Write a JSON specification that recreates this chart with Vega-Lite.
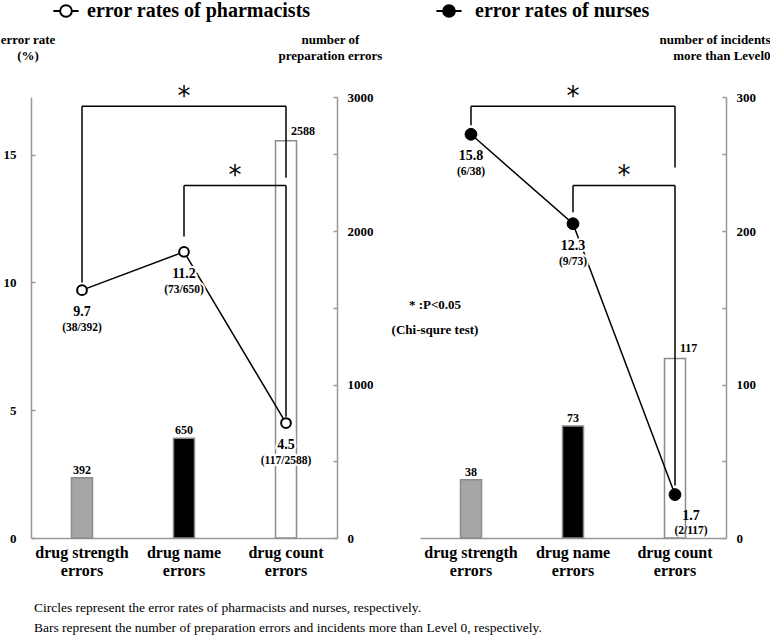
{
  "$schema": "https://vega.github.io/schema/vega-lite/v6.json",
  "autosize": {"type": "pad"},
  "padding": {"left": 0, "top": 1, "right": 0, "bottom": 0},
  "background": "white",
  "spacing": 83,
  "bounds": "flush",
  "title": {
    "text": ["Circles represent the error rates of pharmacists and nurses, respectively.", "Bars represent the number of preparation errors and incidents more than Level 0, respectively."],
    "orient": "bottom", "anchor": "start", "frame": "group",
    "font": "Liberation Serif", "fontSize": 13.5, "fontWeight": "normal", "color": "black",
    "lineHeight": 20, "offset": 23, "dx": 3
  },
  "config": {
    "view": {"stroke": null},
    "font": "Liberation Serif",
    "axis": {
      "grid": false, "domainColor": "#999999", "domainWidth": 1.5, "tickColor": "#999999", "tickWidth": 1.5,
      "labelFont": "Liberation Serif", "labelFontWeight": "bold", "labelColor": "black",
      "titleFont": "Liberation Serif", "titleFontWeight": "bold", "titleColor": "black",
      "labelFlush": false, "labelOverlap": false, "labelBound": false
    },
    "text": {"font": "Liberation Serif", "fontWeight": "bold", "color": "black"}
  },
  "resolve": {
    "scale": {"fill": "independent", "color": "independent", "x": "independent", "y": "independent"},
    "legend": {"fill": "independent"}
  },
  "hconcat": [
    {
      "width": 306, "height": 441,
      "data": {"values": [
        {"cat": "drug strength errors", "count": 392, "rate": 9.7, "frac": "(38/392)"},
        {"cat": "drug name errors", "count": 650, "rate": 11.2, "frac": "(73/650)"},
        {"cat": "drug count errors", "count": 2588, "rate": 4.5, "frac": "(117/2588)"}
      ]},
      "encoding": {
        "x": {"field": "cat", "type": "nominal", "sort": null,
          "scale": {"domain": ["drug strength errors", "drug name errors", "drug count errors"], "paddingInner": 0, "paddingOuter": 0},
          "axis": {"title": null, "labelAngle": 0, "ticks": false, "labelFontSize": 16, "labelLineHeight": 18, "labelPadding": 6, "labelBaseline": "top",
            "labelExpr": "[slice(datum.label, 0, lastindexof(datum.label, ' ')), slice(datum.label, lastindexof(datum.label, ' ') + 1)]"}}
      },
      "layer": [
        {
          "encoding": {
            "y": {"field": "count", "type": "quantitative",
              "scale": {"domain": [0, 2873], "nice": false, "zero": true},
              "axis": {"orient": "right", "values": [0, 500, 1000, 1500, 2000, 2500, 2873], "format": "d",
                "labelExpr": "datum.value > 2800 ? '3000' : (datum.value % 1000 == 0 ? datum.label : '')",
                "tickSize": -4, "labelPadding": 14, "labelFontSize": 13,
                "title": ["number of", "preparation errors"], "titleAngle": 0, "titleAlign": "center", "titleBaseline": "alphabetic",
                "titleX": -7, "titleY": -54, "titleFontSize": 13, "titleLineHeight": 16}}
          },
          "layer": [
            {"mark": {"type": "bar", "width": 21, "stroke": "#8c8c8c", "strokeWidth": 1.5},
             "encoding": {"color": {"field": "cat", "type": "nominal",
               "scale": {"domain": ["drug strength errors", "drug name errors", "drug count errors"], "range": ["#a6a6a6", "#000000", "#ffffff"]}, "legend": null}}},
            {"transform": [{"filter": "datum.cat != 'drug count errors'"}],
             "mark": {"type": "text", "fontSize": 12, "baseline": "middle", "dy": -8},
             "encoding": {"text": {"field": "count", "type": "quantitative", "format": "d"}}},
            {"transform": [{"filter": "datum.cat == 'drug count errors'"}],
             "mark": {"type": "text", "fontSize": 12, "baseline": "middle", "align": "left", "dx": 5, "dy": -10},
             "encoding": {"text": {"field": "count", "type": "quantitative", "format": "d"}}}
          ]
        },
        {
          "encoding": {
            "y": {"field": "rate", "type": "quantitative",
              "scale": {"domain": [0, 17.26], "nice": false, "zero": true},
              "axis": {"orient": "left", "values": [0, 5, 10, 15], "tickSize": -4, "labelPadding": 19, "labelFontSize": 13,
                "title": ["error rate", "(%)"], "titleAngle": 0, "titleAlign": "center", "titleBaseline": "alphabetic",
                "titleX": -3.5, "titleY": -54, "titleFontSize": 13, "titleLineHeight": 16}}
          },
          "layer": [
            {"data": {"values": [
               {"cat": "drug strength errors", "cat_to": "drug strength errors", "rate": 16.9, "rate_lo": 10.0},
               {"cat": "drug strength errors", "cat_to": "drug count errors", "rate": 16.9, "rate_lo": 16.9},
               {"cat": "drug count errors", "cat_to": "drug count errors", "rate": 16.9, "rate_lo": 14.1},
               {"cat": "drug name errors", "cat_to": "drug name errors", "rate": 13.8, "rate_lo": 11.8},
               {"cat": "drug name errors", "cat_to": "drug count errors", "rate": 13.8, "rate_lo": 13.8},
               {"cat": "drug count errors", "cat_to": "drug count errors", "rate": 13.8, "rate_lo": 4.75}
             ]},
             "mark": {"type": "rule", "stroke": "black", "strokeWidth": 1.5},
             "encoding": {"x2": {"field": "cat_to"}, "y2": {"field": "rate_lo"}}},
            {"mark": {"type": "line", "stroke": "black", "strokeWidth": 1.5}},
            {"mark": {"type": "text", "fontSize": 14, "baseline": "middle", "dy": 22, "fill": "white", "stroke": "white", "strokeWidth": 4},
             "encoding": {"text": {"field": "rate", "type": "quantitative", "format": ".1f"}}},
            {"mark": {"type": "text", "fontSize": 11.5, "baseline": "middle", "dy": 38, "fill": "white", "stroke": "white", "strokeWidth": 4},
             "encoding": {"text": {"field": "frac", "type": "nominal"}}},
            {"mark": {"type": "text", "fontSize": 14, "baseline": "middle", "dy": 22},
             "encoding": {"text": {"field": "rate", "type": "quantitative", "format": ".1f"}}},
            {"mark": {"type": "text", "fontSize": 11.5, "baseline": "middle", "dy": 38},
             "encoding": {"text": {"field": "frac", "type": "nominal"}}},
            {"mark": {"type": "circle", "size": 95, "stroke": "black", "strokeWidth": 2, "opacity": 1},
             "encoding": {"fill": {"datum": "error rates of pharmacists", "scale": {"range": ["white"]},
               "legend": {"title": null, "orient": "none", "legendX": 25, "legendY": -96,
                 "symbolType": "M-1.4,0H-0.65M0.65,0H1.4M0.65,0A0.65,0.65,0,1,1,-0.65,0A0.65,0.65,0,1,1,0.65,0Z",
                 "symbolSize": 324, "symbolStrokeColor": "black", "symbolStrokeWidth": 2, "symbolFillColor": "white",
                 "labelFont": "Liberation Serif", "labelFontSize": 20, "labelFontWeight": "bold", "labelColor": "black",
                 "labelLimit": 0, "labelOffset": 11, "padding": 0}}}},
            {"data": {"values": [{"cat": "drug name errors", "rate": 17.5}]},
             "mark": {"type": "text", "text": "*", "font": "DejaVu Sans", "fontSize": 26, "fontWeight": "normal", "baseline": "middle", "dy": 6}},
            {"data": {"values": [{"cat": "drug name errors", "rate": 14.4}]},
             "mark": {"type": "text", "text": "*", "font": "DejaVu Sans", "fontSize": 26, "fontWeight": "normal", "baseline": "middle", "dx": 51, "dy": 6}}
          ]
        }
      ],
      "resolve": {"scale": {"y": "independent"}}
    },
    {
      "width": 306, "height": 441,
      "data": {"values": [
        {"cat": "drug strength errors", "count": 38, "rate": 15.8, "frac": "(6/38)"},
        {"cat": "drug name errors", "count": 73, "rate": 12.3, "frac": "(9/73)"},
        {"cat": "drug count errors", "count": 117, "rate": 1.7, "frac": "(2/117)"}
      ]},
      "encoding": {
        "x": {"field": "cat", "type": "nominal", "sort": null,
          "scale": {"domain": ["drug strength errors", "drug name errors", "drug count errors"], "paddingInner": 0, "paddingOuter": 0},
          "axis": {"title": null, "labelAngle": 0, "ticks": false, "labelFontSize": 16, "labelLineHeight": 18, "labelPadding": 6, "labelBaseline": "top",
            "labelExpr": "[slice(datum.label, 0, lastindexof(datum.label, ' ')), slice(datum.label, lastindexof(datum.label, ' ') + 1)]"}}
      },
      "layer": [
        {
          "encoding": {
            "y": {"field": "count", "type": "quantitative",
              "scale": {"domain": [0, 287.3], "nice": false, "zero": true},
              "axis": {"orient": "right", "values": [0, 50, 100, 150, 200, 250, 287.3], "format": "d",
                "labelExpr": "datum.value > 280 ? '300' : (datum.value % 100 == 0 ? datum.label : '')",
                "tickSize": -4, "labelPadding": 14, "labelFontSize": 13,
                "title": ["number of incidents", "more than Level0"], "titleAngle": 0, "titleAlign": "right", "titleBaseline": "alphabetic",
                "titleX": 44, "titleY": -54, "titleFontSize": 13, "titleLineHeight": 16}}
          },
          "layer": [
            {"mark": {"type": "bar", "width": 21, "stroke": "#8c8c8c", "strokeWidth": 1.5},
             "encoding": {"color": {"field": "cat", "type": "nominal",
               "scale": {"domain": ["drug strength errors", "drug name errors", "drug count errors"], "range": ["#a6a6a6", "#000000", "#ffffff"]}, "legend": null}}},
            {"transform": [{"filter": "datum.cat != 'drug count errors'"}],
             "mark": {"type": "text", "fontSize": 12, "baseline": "middle", "dy": -8},
             "encoding": {"text": {"field": "count", "type": "quantitative", "format": "d"}}},
            {"transform": [{"filter": "datum.cat == 'drug count errors'"}],
             "mark": {"type": "text", "fontSize": 12, "baseline": "middle", "align": "left", "dx": 5, "dy": -10},
             "encoding": {"text": {"field": "count", "type": "quantitative", "format": "d"}}}
          ]
        },
        {
          "encoding": {
            "y": {"field": "rate", "type": "quantitative",
              "scale": {"domain": [0, 17.26], "nice": false, "zero": true}, "axis": null}
          },
          "layer": [
            {"data": {"values": [
               {"cat": "drug strength errors", "cat_to": "drug strength errors", "rate": 16.9, "rate_lo": 16.15},
               {"cat": "drug strength errors", "cat_to": "drug count errors", "rate": 16.9, "rate_lo": 16.9},
               {"cat": "drug count errors", "cat_to": "drug count errors", "rate": 16.9, "rate_lo": 14.5},
               {"cat": "drug name errors", "cat_to": "drug name errors", "rate": 13.8, "rate_lo": 12.75},
               {"cat": "drug name errors", "cat_to": "drug count errors", "rate": 13.8, "rate_lo": 13.8},
               {"cat": "drug count errors", "cat_to": "drug count errors", "rate": 13.8, "rate_lo": 2.05}
             ]},
             "mark": {"type": "rule", "stroke": "black", "strokeWidth": 1.5},
             "encoding": {"x2": {"field": "cat_to"}, "y2": {"field": "rate_lo"}}},
            {"mark": {"type": "line", "stroke": "black", "strokeWidth": 1.5}},
            {"transform": [{"filter": "datum.cat != 'drug count errors'"}],
             "layer": [
               {"mark": {"type": "text", "fontSize": 14, "baseline": "middle", "dy": 22, "fill": "white", "stroke": "white", "strokeWidth": 4},
                "encoding": {"text": {"field": "rate", "type": "quantitative", "format": ".1f"}}},
               {"mark": {"type": "text", "fontSize": 11.5, "baseline": "middle", "dy": 38, "fill": "white", "stroke": "white", "strokeWidth": 4},
                "encoding": {"text": {"field": "frac", "type": "nominal"}}},
               {"mark": {"type": "text", "fontSize": 14, "baseline": "middle", "dy": 22},
                "encoding": {"text": {"field": "rate", "type": "quantitative", "format": ".1f"}}},
               {"mark": {"type": "text", "fontSize": 11.5, "baseline": "middle", "dy": 38},
                "encoding": {"text": {"field": "frac", "type": "nominal"}}}
             ]},
            {"transform": [{"filter": "datum.cat == 'drug count errors'"}],
             "layer": [
               {"mark": {"type": "text", "fontSize": 14, "baseline": "middle", "dx": 16, "dy": 21},
                "encoding": {"text": {"field": "rate", "type": "quantitative", "format": ".1f"}}},
               {"mark": {"type": "text", "fontSize": 11.5, "baseline": "middle", "dx": 16, "dy": 36},
                "encoding": {"text": {"field": "frac", "type": "nominal"}}}
             ]},
            {"mark": {"type": "circle", "size": 140, "stroke": "black", "strokeWidth": 1, "opacity": 1},
             "encoding": {"fill": {"datum": "error rates of nurses", "scale": {"range": ["black"]},
               "legend": {"title": null, "orient": "none", "legendX": 19, "legendY": -96,
                 "symbolType": "M-1.4,0H-0.65M0.65,0H1.4M0.65,0A0.65,0.65,0,1,1,-0.65,0A0.65,0.65,0,1,1,0.65,0Z",
                 "symbolSize": 324, "symbolStrokeColor": "black", "symbolStrokeWidth": 2, "symbolFillColor": "black",
                 "labelFont": "Liberation Serif", "labelFontSize": 20, "labelFontWeight": "bold", "labelColor": "black",
                 "labelLimit": 0, "labelOffset": 16, "padding": 0}}}},
            {"data": {"values": [{"cat": "drug name errors", "rate": 17.5}]},
             "mark": {"type": "text", "text": "*", "font": "DejaVu Sans", "fontSize": 26, "fontWeight": "normal", "baseline": "middle", "dy": 6}},
            {"data": {"values": [{"cat": "drug name errors", "rate": 14.4}]},
             "mark": {"type": "text", "text": "*", "font": "DejaVu Sans", "fontSize": 26, "fontWeight": "normal", "baseline": "middle", "dx": 51, "dy": 6}},
            {"data": {"values": [{"cat": "drug strength errors", "rate": 9.1}]},
             "mark": {"type": "text", "text": ["*   :P<0.05", "(Chi-squre test)"], "fontSize": 13, "lineHeight": 25, "baseline": "middle", "dx": -36}}
          ]
        }
      ],
      "resolve": {"scale": {"y": "independent"}}
    }
  ]
}
